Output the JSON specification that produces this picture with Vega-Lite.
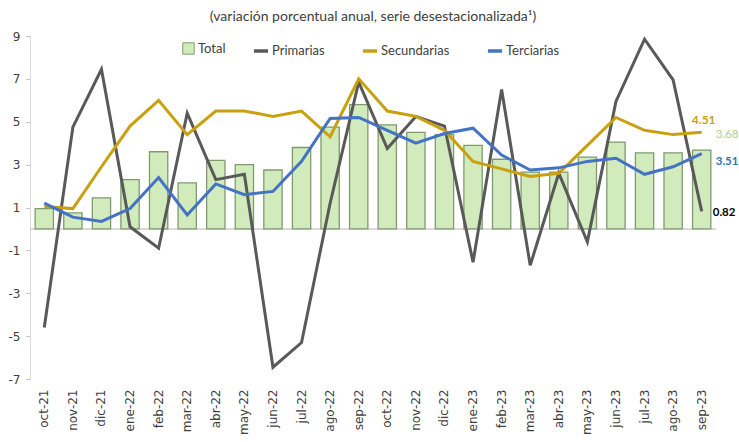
{
  "$schema": "https://vega.github.io/schema/vega-lite/v6.json",
  "width": 686,
  "height": 343,
  "autosize": {"type": "none"},
  "padding": {"left": 30, "top": 36, "right": 23, "bottom": 63},
  "background": "white",
  "config": {
    "view": {"stroke": null},
    "font": "Lato, sans-serif"
  },
  "title": {
    "text": "(variación porcentual anual, serie desestacionalizada¹)",
    "fontSize": 14,
    "fontWeight": "normal",
    "color": "#404040",
    "offset": 6,
    "anchor": "middle",
    "font": "Lato, sans-serif"
  },
  "data": {
    "values": [
      {"mes": "oct-21", "serie": "Total", "valor": 0.95},
      {"mes": "nov-21", "serie": "Total", "valor": 0.75},
      {"mes": "dic-21", "serie": "Total", "valor": 1.45},
      {"mes": "ene-22", "serie": "Total", "valor": 2.3},
      {"mes": "feb-22", "serie": "Total", "valor": 3.6},
      {"mes": "mar-22", "serie": "Total", "valor": 2.15},
      {"mes": "abr-22", "serie": "Total", "valor": 3.2},
      {"mes": "may-22", "serie": "Total", "valor": 3.0},
      {"mes": "jun-22", "serie": "Total", "valor": 2.75},
      {"mes": "jul-22", "serie": "Total", "valor": 3.8},
      {"mes": "ago-22", "serie": "Total", "valor": 4.75},
      {"mes": "sep-22", "serie": "Total", "valor": 5.8},
      {"mes": "oct-22", "serie": "Total", "valor": 4.85},
      {"mes": "nov-22", "serie": "Total", "valor": 4.5},
      {"mes": "dic-22", "serie": "Total", "valor": 4.4},
      {"mes": "ene-23", "serie": "Total", "valor": 3.9},
      {"mes": "feb-23", "serie": "Total", "valor": 3.25},
      {"mes": "mar-23", "serie": "Total", "valor": 2.65},
      {"mes": "abr-23", "serie": "Total", "valor": 2.65},
      {"mes": "may-23", "serie": "Total", "valor": 3.35},
      {"mes": "jun-23", "serie": "Total", "valor": 4.05},
      {"mes": "jul-23", "serie": "Total", "valor": 3.55},
      {"mes": "ago-23", "serie": "Total", "valor": 3.55},
      {"mes": "sep-23", "serie": "Total", "valor": 3.68},
      {"mes": "oct-21", "serie": "Primarias", "valor": -4.6},
      {"mes": "nov-21", "serie": "Primarias", "valor": 4.75},
      {"mes": "dic-21", "serie": "Primarias", "valor": 7.45},
      {"mes": "ene-22", "serie": "Primarias", "valor": 0.1},
      {"mes": "feb-22", "serie": "Primarias", "valor": -0.9},
      {"mes": "mar-22", "serie": "Primarias", "valor": 5.4},
      {"mes": "abr-22", "serie": "Primarias", "valor": 2.3},
      {"mes": "may-22", "serie": "Primarias", "valor": 2.55},
      {"mes": "jun-22", "serie": "Primarias", "valor": -6.45},
      {"mes": "jul-22", "serie": "Primarias", "valor": -5.3},
      {"mes": "ago-22", "serie": "Primarias", "valor": 1.2},
      {"mes": "sep-22", "serie": "Primarias", "valor": 6.85},
      {"mes": "oct-22", "serie": "Primarias", "valor": 3.75},
      {"mes": "nov-22", "serie": "Primarias", "valor": 5.25},
      {"mes": "dic-22", "serie": "Primarias", "valor": 4.8},
      {"mes": "ene-23", "serie": "Primarias", "valor": -1.55},
      {"mes": "feb-23", "serie": "Primarias", "valor": 6.5},
      {"mes": "mar-23", "serie": "Primarias", "valor": -1.7},
      {"mes": "abr-23", "serie": "Primarias", "valor": 2.6},
      {"mes": "may-23", "serie": "Primarias", "valor": -0.6},
      {"mes": "jun-23", "serie": "Primarias", "valor": 5.95},
      {"mes": "jul-23", "serie": "Primarias", "valor": 8.85},
      {"mes": "ago-23", "serie": "Primarias", "valor": 6.95},
      {"mes": "sep-23", "serie": "Primarias", "valor": 0.82},
      {"mes": "oct-21", "serie": "Secundarias", "valor": 1.05},
      {"mes": "nov-21", "serie": "Secundarias", "valor": 0.95},
      {"mes": "dic-21", "serie": "Secundarias", "valor": 2.9},
      {"mes": "ene-22", "serie": "Secundarias", "valor": 4.8},
      {"mes": "feb-22", "serie": "Secundarias", "valor": 6.0},
      {"mes": "mar-22", "serie": "Secundarias", "valor": 4.4},
      {"mes": "abr-22", "serie": "Secundarias", "valor": 5.5},
      {"mes": "may-22", "serie": "Secundarias", "valor": 5.5},
      {"mes": "jun-22", "serie": "Secundarias", "valor": 5.25},
      {"mes": "jul-22", "serie": "Secundarias", "valor": 5.5},
      {"mes": "ago-22", "serie": "Secundarias", "valor": 4.3},
      {"mes": "sep-22", "serie": "Secundarias", "valor": 7.0},
      {"mes": "oct-22", "serie": "Secundarias", "valor": 5.5},
      {"mes": "nov-22", "serie": "Secundarias", "valor": 5.25},
      {"mes": "dic-22", "serie": "Secundarias", "valor": 4.6},
      {"mes": "ene-23", "serie": "Secundarias", "valor": 3.15},
      {"mes": "feb-23", "serie": "Secundarias", "valor": 2.8},
      {"mes": "mar-23", "serie": "Secundarias", "valor": 2.45},
      {"mes": "abr-23", "serie": "Secundarias", "valor": 2.6},
      {"mes": "may-23", "serie": "Secundarias", "valor": 3.9},
      {"mes": "jun-23", "serie": "Secundarias", "valor": 5.2},
      {"mes": "jul-23", "serie": "Secundarias", "valor": 4.6},
      {"mes": "ago-23", "serie": "Secundarias", "valor": 4.4},
      {"mes": "sep-23", "serie": "Secundarias", "valor": 4.51},
      {"mes": "oct-21", "serie": "Terciarias", "valor": 1.2},
      {"mes": "nov-21", "serie": "Terciarias", "valor": 0.55},
      {"mes": "dic-21", "serie": "Terciarias", "valor": 0.35},
      {"mes": "ene-22", "serie": "Terciarias", "valor": 0.95},
      {"mes": "feb-22", "serie": "Terciarias", "valor": 2.4},
      {"mes": "mar-22", "serie": "Terciarias", "valor": 0.65},
      {"mes": "abr-22", "serie": "Terciarias", "valor": 2.1},
      {"mes": "may-22", "serie": "Terciarias", "valor": 1.6},
      {"mes": "jun-22", "serie": "Terciarias", "valor": 1.75},
      {"mes": "jul-22", "serie": "Terciarias", "valor": 3.15},
      {"mes": "ago-22", "serie": "Terciarias", "valor": 5.15},
      {"mes": "sep-22", "serie": "Terciarias", "valor": 5.2},
      {"mes": "oct-22", "serie": "Terciarias", "valor": 4.6},
      {"mes": "nov-22", "serie": "Terciarias", "valor": 4.0},
      {"mes": "dic-22", "serie": "Terciarias", "valor": 4.45},
      {"mes": "ene-23", "serie": "Terciarias", "valor": 4.7},
      {"mes": "feb-23", "serie": "Terciarias", "valor": 3.45},
      {"mes": "mar-23", "serie": "Terciarias", "valor": 2.75},
      {"mes": "abr-23", "serie": "Terciarias", "valor": 2.85},
      {"mes": "may-23", "serie": "Terciarias", "valor": 3.15},
      {"mes": "jun-23", "serie": "Terciarias", "valor": 3.3},
      {"mes": "jul-23", "serie": "Terciarias", "valor": 2.55},
      {"mes": "ago-23", "serie": "Terciarias", "valor": 2.9},
      {"mes": "sep-23", "serie": "Terciarias", "valor": 3.51}
    ]
  },
  "encoding": {
    "x": {
      "field": "mes",
      "type": "nominal",
      "sort": null,
      "scale": {"paddingInner": 0.36, "paddingOuter": 0.18},
      "axis": {
        "title": null,
        "domain": false,
        "ticks": false,
        "labelAngle": -90,
        "labelPadding": 10,
        "labelFontSize": 12,
        "labelColor": "#404040",
        "labelFont": "DejaVu Sans, sans-serif"
      }
    },
    "y": {
      "field": "valor",
      "type": "quantitative",
      "scale": {"domain": [-7, 9], "nice": false, "zero": false},
      "axis": {
        "title": null,
        "values": [-7, -5, -3, -1, 1, 3, 5, 7, 9],
        "labelExpr": "replace(datum.label, '−', '-')",
        "grid": false,
        "domainColor": "#d9d9d9",
        "tickColor": "#bfbfbf",
        "tickSize": 4,
        "labelFontSize": 12,
        "labelColor": "#404040",
        "labelFont": "DejaVu Sans, sans-serif",
        "labelPadding": 6
      }
    }
  },
  "layer": [
    {
      "mark": {"type": "rule", "color": "#d9d9d9", "strokeWidth": 1},
      "encoding": {"y": {"datum": 0}, "x": {"value": 0}, "x2": {"value": 686}}
    },
    {
      "transform": [{"filter": "datum.serie === 'Total'"}],
      "mark": {"type": "bar", "stroke": "#7f9b6e", "strokeWidth": 1.3},
      "encoding": {
        "fill": {
          "field": "serie",
          "type": "nominal",
          "scale": {"domain": ["Total"], "range": ["#d2ebbd"]},
          "legend": {
            "orient": "none",
            "legendX": 152,
            "legendY": 6,
            "direction": "horizontal",
            "title": null,
            "labelFontSize": 13,
            "labelColor": "#404040",
            "labelOffset": 3,
            "labelFont": "Lato, sans-serif",
            "symbolType": "square",
            "symbolSize": 130,
            "symbolStrokeColor": "#7f9b6e",
            "symbolStrokeWidth": 1,
            "symbolOpacity": 1
          }
        }
      }
    },
    {
      "transform": [{"filter": "datum.serie !== 'Total'"}],
      "mark": {"type": "line", "strokeWidth": 3},
      "encoding": {
        "stroke": {
          "field": "serie",
          "type": "nominal",
          "scale": {
            "domain": ["Primarias", "Secundarias", "Terciarias"],
            "range": ["#595959", "#c9a00f", "#4472c4"]
          },
          "legend": {
            "orient": "none",
            "legendX": 222,
            "legendY": 6,
            "direction": "horizontal",
            "title": null,
            "columnPadding": 30,
            "labelFontSize": 13,
            "labelColor": "#404040",
            "labelOffset": 2,
            "labelFont": "Lato, sans-serif",
            "symbolType": "stroke",
            "symbolSize": 200,
            "symbolStrokeWidth": 3.5,
            "symbolOpacity": 1
          }
        }
      }
    },
    {
      "transform": [{"filter": "datum.mes === 'sep-23' && datum.serie === 'Secundarias'"}],
      "mark": {"type": "text", "dy": -12, "dx": 2, "fontSize": 12, "fontWeight": "bold", "color": "#c9a00f", "font": "Lato, sans-serif"},
      "encoding": {"text": {"field": "valor", "format": ".2f"}}
    },
    {
      "transform": [{"filter": "datum.mes === 'sep-23' && datum.serie === 'Total'"}],
      "mark": {"type": "text", "align": "left", "dx": 14, "dy": -15, "fontSize": 11.5, "color": "#a9d18e", "font": "Lato, sans-serif"},
      "encoding": {"text": {"field": "valor", "format": ".2f"}}
    },
    {
      "transform": [{"filter": "datum.mes === 'sep-23' && datum.serie === 'Terciarias'"}],
      "mark": {"type": "text", "align": "left", "dx": 14, "dy": 8, "fontSize": 11.5, "fontWeight": "bold", "color": "#2e75b6", "font": "Lato, sans-serif"},
      "encoding": {"text": {"field": "valor", "format": ".2f"}}
    },
    {
      "transform": [{"filter": "datum.mes === 'sep-23' && datum.serie === 'Primarias'"}],
      "mark": {"type": "text", "align": "left", "dx": 11, "dy": 2, "fontSize": 11.5, "fontWeight": "bold", "color": "#000000", "font": "Lato, sans-serif"},
      "encoding": {"text": {"field": "valor", "format": ".2f"}}
    }
  ]
}
